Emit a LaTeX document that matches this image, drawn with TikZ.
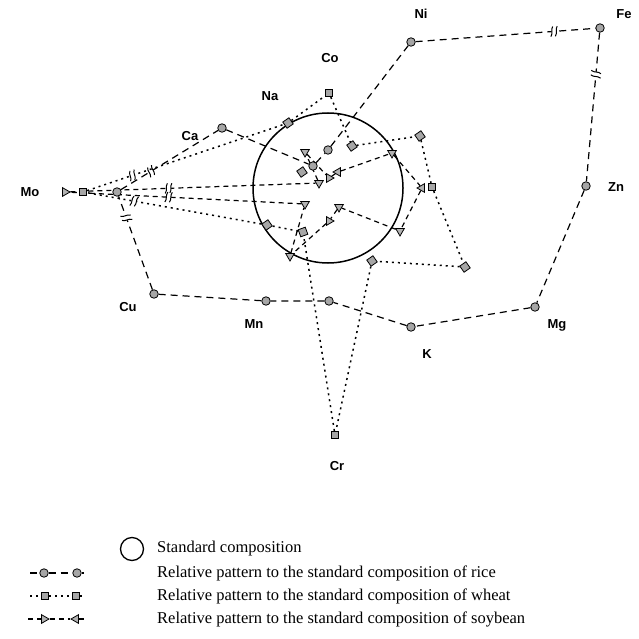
\documentclass[tikz,border=0pt]{standalone}
\usepackage{fontspec}
\setmainfont{Liberation Serif}
\setsansfont{Liberation Sans}
\usetikzlibrary{shapes.geometric, backgrounds}
\tikzstyle{ricept} = [circle, draw, fill=gray!70, line width=0.8pt, inner sep=0pt, minimum size=8.5pt]
\tikzstyle{wheatpt} = [rectangle, draw, fill=gray!70, line width=0.8pt, inner sep=0pt, minimum size=7.5pt]
\tikzstyle{soypt} = [regular polygon, regular polygon sides=3, draw, fill=gray!60, line width=0.8pt, inner sep=0pt, minimum size=10pt]
\tikzstyle{rice} = [line width=1.2pt, dash pattern=on 7pt off 5pt]
\tikzstyle{wheat} = [line width=1.5pt, dash pattern=on 2pt off 4pt]
\tikzstyle{soy} = [line width=1.2pt, dash pattern=on 5pt off 4pt]
\tikzstyle{elem} = [font=\sffamily\bfseries\fontsize{13}{15}\selectfont]
\tikzstyle{legtext} = [anchor=west, inner sep=0pt, font=\fontsize{16.5}{18}\selectfont]
\tikzset{brk/.pic={
  \fill[white] (-2.5pt,-4pt) rectangle (2.5pt,4pt);
  \draw[solid, line width=1pt] (-3.5pt,-5pt) .. controls (-1pt,-1.5pt) and (-3.5pt,1.5pt) .. (-1pt,5pt)
    (1pt,-5pt) .. controls (3.5pt,-1.5pt) and (1pt,1.5pt) .. (3.5pt,5pt);
}}

\begin{document}
\begin{tikzpicture}[x=1pt, y=-1pt]
    \useasboundingbox (0,0) rectangle (638,639);
    % standard composition
    \draw[line width=1.5pt] (328,188) circle (75);
    % rice
    \node[ricept] (Mo-r) at (117,192) {};
    \node[ricept] (Ca-r) at (222,128) {};
    \node[ricept] (Na-r) at (313,166) {};
    \node[ricept] (Co-r) at (328,150) {};
    \node[ricept] (Ni-r) at (411,42) {};
    \node[ricept] (Fe-r) at (600,28) {};
    \node[ricept] (Zn-r) at (586,186) {};
    \node[ricept] (Mg-r) at (535,307) {};
    \node[ricept] (K-r) at (411,327) {};
    \node[ricept] (Cr-r) at (329,301) {};
    \node[ricept] (Mn-r) at (266,301) {};
    \node[ricept] (Cu-r) at (154,294) {};
    % wheat
    \node[wheatpt] (Mo-w) at (83,192) {};
    \node[wheatpt, rotate=35] (Ca-w) at (302,172) {};
    \node[wheatpt, rotate=35] (Na-w) at (288,123) {};
    \node[wheatpt] (Co-w) at (329,93) {};
    \node[wheatpt, rotate=35] (Ni-w) at (352,146) {};
    \node[wheatpt, rotate=35] (Fe-w) at (420,136) {};
    \node[wheatpt] (Zn-w) at (432,187) {};
    \node[wheatpt, rotate=35] (Mg-w) at (465,267) {};
    \node[wheatpt, rotate=35] (K-w) at (372,261) {};
    \node[wheatpt] (Cr-w) at (335,435) {};
    \node[wheatpt, rotate=20] (Mn-w) at (303,232) {};
    \node[wheatpt, rotate=35] (Cu-w) at (267,225) {};
    % soybean
    \node[soypt, shape border rotate=-90] (Mo-s) at (65,192) {};
    \node[soypt, shape border rotate=180] (Ca-s) at (319,183) {};
    \node[soypt, shape border rotate=180] (Na-s) at (305,152) {};
    \node[soypt, shape border rotate=150] (Co-s) at (329,178) {};
    \node[soypt, shape border rotate=90] (Ni-s) at (338,172) {};
    \node[soypt, shape border rotate=60] (Fe-s) at (392,153) {};
    \node[soypt, shape border rotate=90] (Zn-s) at (422,188) {};
    \node[soypt, shape border rotate=180] (Mg-s) at (400,231) {};
    \node[soypt, shape border rotate=60] (K-s) at (339,207) {};
    \node[soypt, shape border rotate=30] (Cr-s) at (329,221) {};
    \node[soypt, shape border rotate=60] (Mn-s) at (290,256) {};
    \node[soypt, shape border rotate=180] (Cu-s) at (305,204) {};
    % element names
    \node[elem] (Mo) at (30,192) {Mo};
    \node[elem] (Ca) at (190,136) {Ca};
    \node[elem] (Na) at (270,96) {Na};
    \node[elem] (Co) at (330,58) {Co};
    \node[elem] (Ni) at (421,14) {Ni};
    \node[elem] (Fe) at (624,14) {Fe};
    \node[elem] (Zn) at (616,187) {Zn};
    \node[elem] (Mg) at (557,325) {Mg};
    \node[elem] (K) at (427,354) {K};
    \node[elem] (Cr) at (337,466) {Cr};
    \node[elem] (Mn) at (254,324) {Mn};
    \node[elem] (Cu) at (128,307) {Cu};
    % patterns
    \begin{scope}[on background layer]
    \draw[rice] (Mo-r) -- pic[pos=.31, sloped]{brk} (Ca-r) -- (Na-r) -- (Co-r) -- (Ni-r)
        -- pic[pos=.77, sloped]{brk} (Fe-r) -- pic[pos=.28, sloped]{brk} (Zn-r) -- (Mg-r)
        -- (K-r) -- (Cr-r) -- (Mn-r) -- (Cu-r) -- pic[pos=.77, sloped]{brk} (Mo-r);
    \draw[wheat] (Mo-w) -- pic[pos=.23, sloped]{brk} (Na-w) -- (Co-w) -- (Ni-w) -- (Fe-w)
        -- (Zn-w) -- (Mg-w) -- (K-w) -- (Cr-w) -- (Mn-w) -- (Cu-w)
        -- pic[pos=.73, sloped]{brk} (Mo-w);
    \draw[soy] (Mo-s) -- pic[pos=.4, sloped]{brk} (Ca-s) -- (Na-s) -- (Co-s) -- (Ni-s) -- (Fe-s)
        -- (Zn-s) -- (Mg-s) -- (K-s) -- (Cr-s) -- (Mn-s) -- (Cu-s)
        -- pic[pos=.575, sloped]{brk} (Mo-s);
    \end{scope}
    % legend
    \node[draw, circle, line width=1.3pt, minimum size=23pt, inner sep=0pt] (std) at (132,549) {};
    \node[legtext] (t-std) at (157,549) {Standard composition};
    \coordinate (lr1) at (30,573);
    \node[ricept] (lr2) at (44,573) {};
    \node[ricept] (lr3) at (77,573) {};
    \coordinate (lr4) at (84,573);
    \draw[rice] (lr1) -- (lr2) -- (lr3) -- (lr4);
    \node[legtext] (t-rice) at (157,573) {Relative pattern to the standard composition of rice};
    \coordinate (lw1) at (30,596);
    \node[wheatpt] (lw2) at (45,596) {};
    \node[wheatpt] (lw3) at (76,596) {};
    \coordinate (lw4) at (84,596);
    \draw[wheat] (lw1) -- (lw2) -- (lw3) -- (lw4);
    \node[legtext] (t-wheat) at (157,596) {Relative pattern to the standard composition of wheat};
    \coordinate (ls1) at (28,619);
    \node[soypt, shape border rotate=-90] (ls2) at (44,619) {};
    \node[soypt, shape border rotate=90] (ls3) at (76,619) {};
    \coordinate (ls4) at (84,619);
    \draw[soy] (ls1) -- (ls2) -- (ls3) -- (ls4);
    \node[legtext] (t-soy) at (157,619) {Relative pattern to the standard composition of soybean};
\end{tikzpicture}
\end{document}
